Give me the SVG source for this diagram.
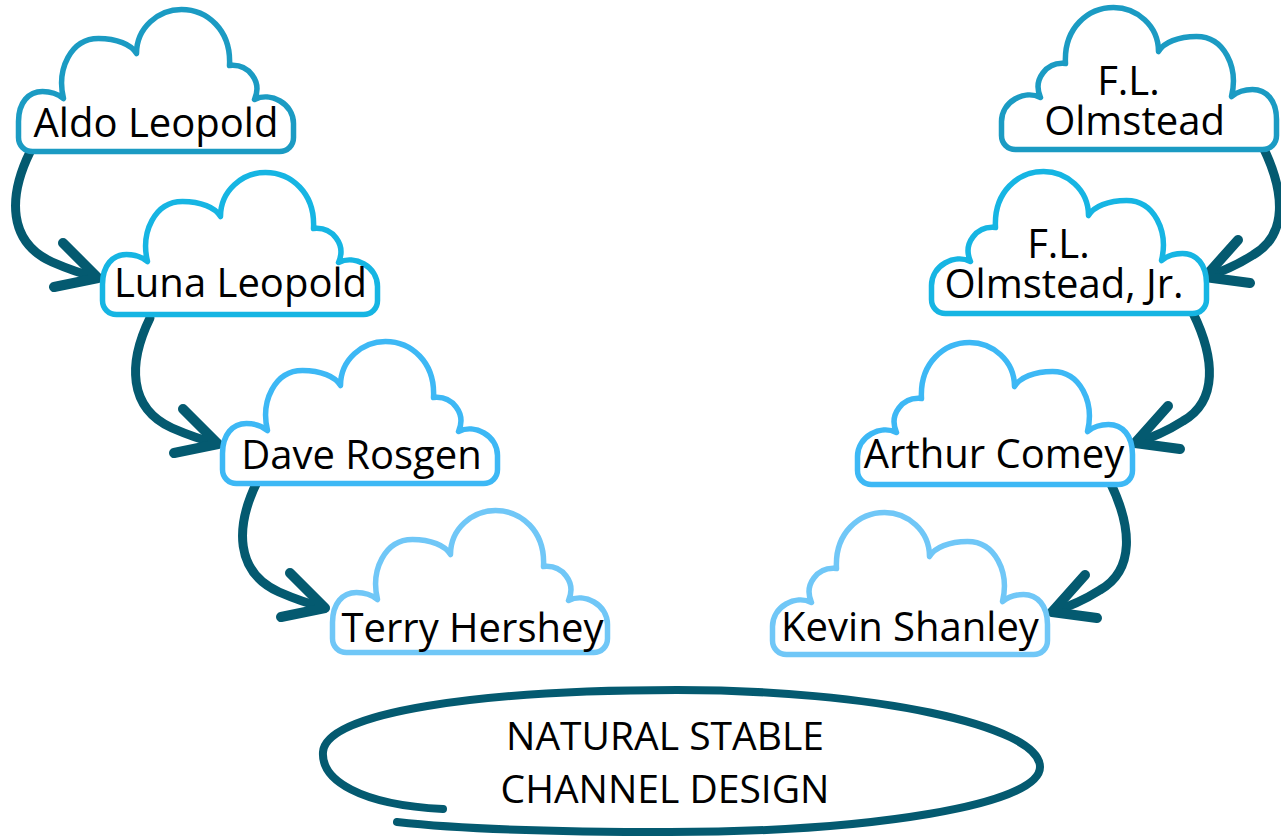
<svg xmlns="http://www.w3.org/2000/svg" width="1281" height="837" viewBox="0 0 1281 837">
<defs>
<style>
.cloud{fill:#fff;stroke-width:5.5;stroke-linejoin:round}
.c1{stroke:#1b9bc3}.c2{stroke:#16b5e3}.c3{stroke:#3db8f5}.c4{stroke:#70c7f7}
.lbl{font-family:"Open Sans","Noto Sans","DejaVu Sans",sans-serif;font-size:40px;fill:#000;text-anchor:middle}
.conn{fill:none;stroke:#045a70;stroke-linecap:round;stroke-linejoin:round}
.shaft{stroke-width:9}
.head{stroke-width:10}
.main{font-family:"Open Sans","Noto Sans","DejaVu Sans",sans-serif;font-weight:400;font-size:39px;fill:#000;text-anchor:middle}
</style>
<path id="cloudShape" d="M14,142 C6,142 0,136 0,128 L0,112 C0,93 10,82 24,82 C33,82 40,85 45,89 C38,60 52,29 80,29 C98,29 113,35 118,44 C118,18 140,0 163,0 C188,0 213,20 211,56 C230,54 244,72 236,90 C252,82 275,94 275,114 L275,128 C275,136 269,142 261,142 Z"/>
</defs>
<rect width="1281" height="837" fill="#fff"/>

<g id="connectors">
<g transform="translate(30,152)"><path class="conn shaft" d="M0,0 C-22,45 -22,90 22,110 Q45,120 68,126"/><path class="conn head" d="M33,91 L68,126 L24,135"/></g>
<g transform="translate(150,318)"><path class="conn shaft" d="M0,0 C-22,45 -22,90 22,110 Q45,120 68,126"/><path class="conn head" d="M33,91 L68,126 L24,135"/></g>
<g transform="translate(257,482)"><path class="conn shaft" d="M0,0 C-22,45 -22,90 22,110 Q45,120 68,126"/><path class="conn head" d="M33,91 L68,126 L24,135"/></g>
<g transform="translate(1263,147)"><path class="conn shaft" d="M0,0 C22,45 25,88 -10,108 Q-32,122 -58,130"/><path class="conn head" d="M-25,93 L-58,130 L-13,136"/></g>
<g transform="translate(1193,313)"><path class="conn shaft" d="M0,0 C22,45 25,88 -10,108 Q-32,122 -58,130"/><path class="conn head" d="M-25,93 L-58,130 L-13,136"/></g>
<g transform="translate(1110,482)"><path class="conn shaft" d="M0,0 C22,45 25,88 -10,108 Q-32,122 -58,130"/><path class="conn head" d="M-25,93 L-58,130 L-13,136"/></g>
</g>

<g id="aldo-leopold">
<use href="#cloudShape" class="cloud c1" transform="translate(18.5,9.5)"/>
<text class="lbl" x="156" y="137">Aldo Leopold</text>
</g>
<g id="luna-leopold">
<use href="#cloudShape" class="cloud c2" transform="translate(102.5,172.5)"/>
<text class="lbl" x="240.5" y="297">Luna Leopold</text>
</g>
<g id="dave-rosgen">
<use href="#cloudShape" class="cloud c3" transform="translate(222.5,341.5)"/>
<text class="lbl" x="361.5" y="469">Dave Rosgen</text>
</g>
<g id="terry-hershey">
<use href="#cloudShape" class="cloud c4" transform="translate(332.5,510.5)"/>
<text class="lbl" x="472.5" y="642">Terry Hershey</text>
</g>

<g id="fl-olmstead">
<use href="#cloudShape" class="cloud c1" transform="translate(1276.5,7.5) scale(-1,1)"/>
<text class="lbl"><tspan x="1128.5" y="95">F.L.</tspan><tspan x="1134.5" y="135">Olmstead</tspan></text>
</g>
<g id="fl-olmstead-jr">
<use href="#cloudShape" class="cloud c2" transform="translate(1206.5,171.5) scale(-1,1)"/>
<text class="lbl"><tspan x="1058.5" y="258">F.L.</tspan><tspan x="1064" y="298">Olmstead, Jr.</tspan></text>
</g>
<g id="arthur-comey">
<use href="#cloudShape" class="cloud c3" transform="translate(1132.5,342.5) scale(-1,1)"/>
<text class="lbl" x="994" y="468">Arthur Comey</text>
</g>
<g id="kevin-shanley">
<use href="#cloudShape" class="cloud c4" transform="translate(1047.5,512.5) scale(-1,1)"/>
<text class="lbl" x="910" y="641">Kevin Shanley</text>
</g>

<g id="natural-stable-channel-design">
<path d="M443,809 C360,805 321,780 323,752 C326,712 480,690 677,690 C870,690 1040,725 1040,767 C1040,805 870,832 670,832 C550,832 450,828 397,822" fill="none" stroke="#045a70" stroke-width="8" stroke-linecap="round"/>
<text class="main"><tspan x="665" y="750">NATURAL STABLE</tspan><tspan x="665" y="803">CHANNEL DESIGN</tspan></text>
</g>
</svg>
